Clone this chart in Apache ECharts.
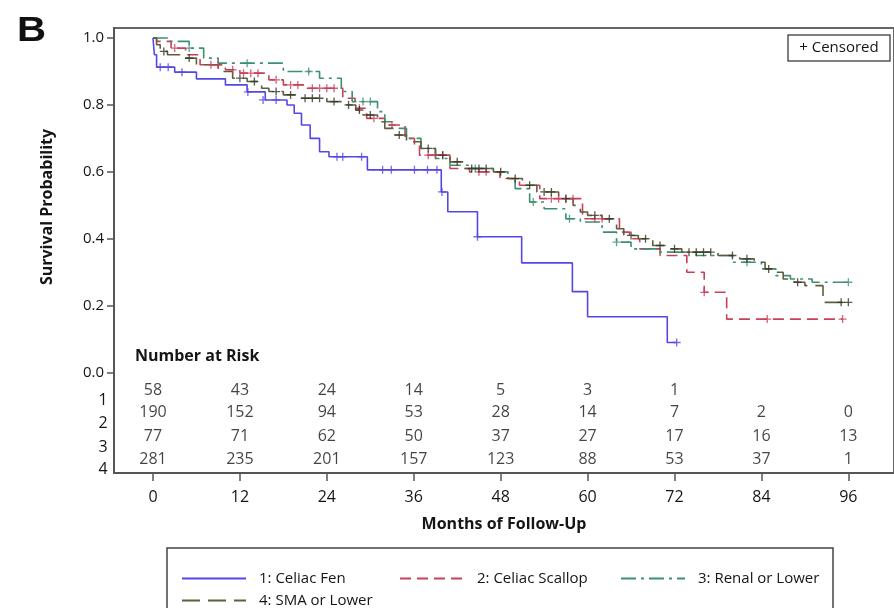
<!DOCTYPE html>
<html>
<head>
<meta charset="utf-8">
<script src="https://cdn.jsdelivr.net/npm/echarts@6/dist/echarts.min.js"></script>
<style>html,body{margin:0;padding:0;background:#fff}#c{width:894px;height:608px}</style>
</head>
<body>
<div id="c"></div>
<script>
// ---- data ----
var groupNames = ['1: Celiac Fen', '2: Celiac Scallop', '3: Renal or Lower', '4: SMA or Lower'];
var monthTicks = [0, 12, 24, 36, 48, 60, 72, 84, 96];
var probTicks = [0, 0.2, 0.4, 0.6, 0.8, 1.0];

var stepsFen = [[0,1.0],[0.2,0.95],[0.5,0.913],[3,0.898],[6,0.878],[10,0.86],[13,0.839],[15.5,0.815],[18.5,0.80],[19.5,0.775],[20.5,0.74],[21.7,0.70],[23,0.66],[24.3,0.645],[29.6,0.606],[39.8,0.54],[40.7,0.481],[44.8,0.406],[50.9,0.328],[57.9,0.242],[60,0.167],[71,0.09],[72.3,0.09]];
var censFen = [[1,0.913],[2.1,0.913],[4,0.898],[13.1,0.839],[15.2,0.815],[17,0.815],[25.4,0.645],[26.2,0.645],[28.8,0.645],[31.7,0.606],[32.9,0.606],[36.1,0.606],[37.9,0.606],[39.2,0.606],[39.9,0.54],[44.8,0.406],[72.3,0.09]];

var stepsScallop = [[0,1.0],[0.5,0.99],[2.5,0.97],[4.5,0.95],[6.5,0.92],[10,0.905],[12,0.895],[16,0.875],[18,0.86],[21,0.85],[26.2,0.82],[27.9,0.79],[29.5,0.76],[32,0.74],[34.8,0.70],[36.1,0.68],[36.8,0.65],[41,0.61],[43.7,0.60],[47.9,0.58],[50.6,0.56],[53.4,0.52],[59.3,0.46],[64.4,0.42],[65.8,0.40],[67.2,0.37],[70,0.35],[73.7,0.30],[76.1,0.24],[79.2,0.16],[95.2,0.16]];
var censScallop = [[3,0.97],[8,0.92],[9,0.92],[11,0.905],[12.5,0.895],[13.5,0.895],[14.5,0.895],[17,0.875],[19,0.86],[20,0.86],[22,0.85],[23,0.85],[24,0.85],[25,0.85],[28.5,0.79],[30.5,0.76],[33,0.74],[38,0.65],[39,0.65],[40,0.65],[45,0.60],[46,0.60],[55,0.52],[56,0.52],[57,0.52],[58,0.52],[61,0.46],[62,0.46],[76.1,0.24],[84.8,0.16],[95.2,0.16]];

var stepsRenal = [[0,1.0],[2,0.99],[5,0.97],[7,0.94],[9,0.925],[18,0.90],[23,0.88],[26,0.84],[27.5,0.81],[31,0.78],[32,0.75],[33,0.73],[35,0.70],[37,0.67],[39,0.64],[41,0.62],[44,0.61],[47,0.60],[49,0.58],[50,0.55],[52,0.51],[54,0.49],[57,0.46],[59,0.45],[62,0.42],[64,0.39],[66,0.37],[70,0.36],[75,0.35],[80,0.33],[84,0.31],[86,0.29],[88,0.28],[91,0.27],[96,0.27]];
var censRenal = [[5,0.97],[13,0.925],[21.5,0.90],[29,0.81],[30,0.81],[44.5,0.61],[52.5,0.51],[57.5,0.46],[64,0.39],[82,0.33],[96,0.27]];

var stepsSMA = [[0,1.0],[0.5,0.98],[1,0.96],[2,0.95],[4,0.94],[6,0.92],[9,0.90],[11,0.88],[13,0.87],[15,0.85],[16,0.84],[18,0.83],[20,0.82],[24,0.81],[26,0.80],[28,0.785],[29,0.77],[31,0.75],[32,0.73],[33,0.71],[35,0.69],[37,0.67],[39,0.65],[41,0.63],[43,0.61],[47,0.60],[49,0.58],[51,0.56],[53,0.54],[56,0.52],[58,0.50],[59,0.48],[60,0.47],[62,0.46],[64,0.43],[65,0.41],[67,0.40],[69,0.38],[71,0.37],[73,0.36],[78,0.35],[81,0.34],[83,0.33],[84.5,0.31],[86,0.30],[87,0.28],[88.5,0.27],[90,0.26],[92.5,0.21],[96,0.21]];
var censSMA = [[1.5,0.96],[5,0.94],[12,0.88],[14,0.87],[17,0.84],[19,0.83],[21,0.82],[22,0.82],[23,0.82],[25,0.81],[27,0.80],[28.5,0.785],[30,0.77],[34,0.71],[38,0.67],[40,0.65],[42,0.63],[44,0.61],[45,0.61],[46,0.61],[48,0.60],[50,0.58],[52,0.56],[54,0.54],[55,0.54],[57,0.52],[61,0.47],[63,0.46],[66,0.41],[68,0.40],[70,0.38],[72,0.37],[74,0.36],[75,0.36],[76,0.36],[77,0.36],[80,0.35],[82,0.34],[85,0.31],[89,0.27],[95,0.21],[96,0.21]];

var riskFen = [58, 43, 24, 14, 5, 3, 1];
var riskScallop = [190, 152, 94, 53, 28, 14, 7, 2, 0];
var riskRenal = [77, 71, 62, 50, 37, 27, 17, 16, 13];
var riskSMA = [281, 235, 201, 157, 123, 88, 53, 37, 1];

// ---- styling ----
var FONT = 'Open Sans';
var TXT = '#151515';
var colors = ['#5547e6', '#c8405a', '#3c9070', '#5e5d40'];
var dashes = ['solid', [11, 6], [15, 5, 3, 5], [18, 8]];
var steps = [stepsFen, stepsScallop, stepsRenal, stepsSMA];
var cens = [censFen, censScallop, censRenal, censSMA];
var risks = [riskFen, riskScallop, riskRenal, riskSMA];
var riskRowY = [-0.054, -0.119, -0.19, -0.259];
var plus = 'path://M4,0h1.6v4h4v1.6h-4v4h-1.6v-4h-4v-1.6h4z';

var series = [];
for (var g = 0; g < 4; g++) {
  series.push({
    name: groupNames[g], type: 'line', step: 'end', data: steps[g],
    symbol: 'none', showSymbol: false, z: 3 + (g === 0 ? 2 : 0),
    lineStyle: { color: colors[g], width: 1.6, type: dashes[g] },
    itemStyle: { color: colors[g] }, animation: false
  });
  series.push({
    name: 'cens' + g, type: 'scatter', data: cens[g], symbol: plus, symbolSize: 8,
    itemStyle: { color: g === 3 ? '#333322' : colors[g] }, z: 4, animation: false, silent: true
  });
  series.push({
    name: 'risk' + g, type: 'scatter', symbolSize: 0, silent: true, animation: false,
    data: risks[g].map(function (v, i) { return [monthTicks[i], riskRowY[g], v]; }),
    label: { show: true, position: 'inside', formatter: function (p) { return String(p.value[2]); },
      color: TXT, fontFamily: FONT, fontSize: 16 }
  });
}

var legends = [
  { left: 181, top: 571 }, { left: 399, top: 571 }, { left: 620, top: 571 }, { left: 181, top: 593 }
].map(function (pos, i) {
  return {
    data: [groupNames[i]], left: pos.left, top: pos.top, padding: 0,
    itemWidth: 64, itemHeight: 12, selectedMode: false,
    itemStyle: { opacity: 0 },
    textStyle: { fontFamily: FONT, fontSize: 15, color: TXT, padding: [0, 0, 0, 8] }
  };
});

var rowLabels = ['1', '2', '3', '4'];
var rowLabelY = [400, 423, 447, 469];
var graphics = [
  { type: 'text', x: 17, y: 14, scaleX: 1.15, style: { text: 'B', font: 'bold 35px "Liberation Sans"', fill: '#111' } },
  { type: 'text', x: 47, y: 207, rotation: Math.PI / 2, style: { text: 'Survival Probability', font: 'bold 16px "' + FONT + '"', fill: TXT, align: 'center', verticalAlign: 'middle' } },
  { type: 'text', left: 135, top: 348, style: { text: 'Number at Risk', font: 'bold 16px "' + FONT + '"', fill: TXT } },
  { type: 'rect', shape: { x: 788, y: 35, width: 102, height: 26 }, style: { fill: '#fff', stroke: '#555', lineWidth: 1.5 } },
  { type: 'text', x: 839, y: 48, style: { text: '+ Censored', font: '15px "' + FONT + '"', fill: TXT, align: 'center', verticalAlign: 'middle' } },
  { type: 'rect', shape: { x: 167, y: 548, width: 666, height: 70 }, style: { fill: 'none', stroke: '#444', lineWidth: 1.5 }, z: -1 }
];
rowLabels.forEach(function (t, i) {
  graphics.push({ type: 'text', x: 103, y: rowLabelY[i], style: { text: t, font: '16px "' + FONT + '"', fill: TXT, align: 'center', verticalAlign: 'middle' } });
});

var chart = echarts.init(document.getElementById('c'), null, { renderer: 'canvas' });
chart.setOption({
  animation: false,
  color: colors,
  grid: { left: 114, top: 28, right: -1, bottom: 135, show: true, borderColor: '#666', borderWidth: 2 },
  xAxis: {
    type: 'value', min: -5.38, max: 102.3,
    name: 'Months of Follow-Up', nameLocation: 'middle', nameGap: 43,
    nameTextStyle: { fontFamily: FONT, fontWeight: 'bold', fontSize: 16, color: TXT },
    axisLine: { onZero: false, lineStyle: { color: '#555', width: 2 } },
    axisTick: { show: true, length: 8, customValues: monthTicks, lineStyle: { color: '#555', width: 1.5 } },
    axisLabel: { customValues: monthTicks, margin: 16, fontFamily: FONT, fontSize: 16, color: TXT },
    splitLine: { show: false }
  },
  yAxis: {
    type: 'value', min: -0.3, max: 1.03,
    axisLine: { onZero: false, lineStyle: { color: '#555', width: 2 } },
    axisTick: { show: true, length: 7, customValues: probTicks, lineStyle: { color: '#555', width: 1.5 } },
    axisLabel: { customValues: probTicks, margin: 10, fontFamily: FONT, fontSize: 15, color: TXT,
      formatter: function (v) { return v.toFixed(1); } },
    splitLine: { show: false }
  },
  legend: legends,
  graphic: graphics,
  series: series
});
</script>
</body>
</html>
